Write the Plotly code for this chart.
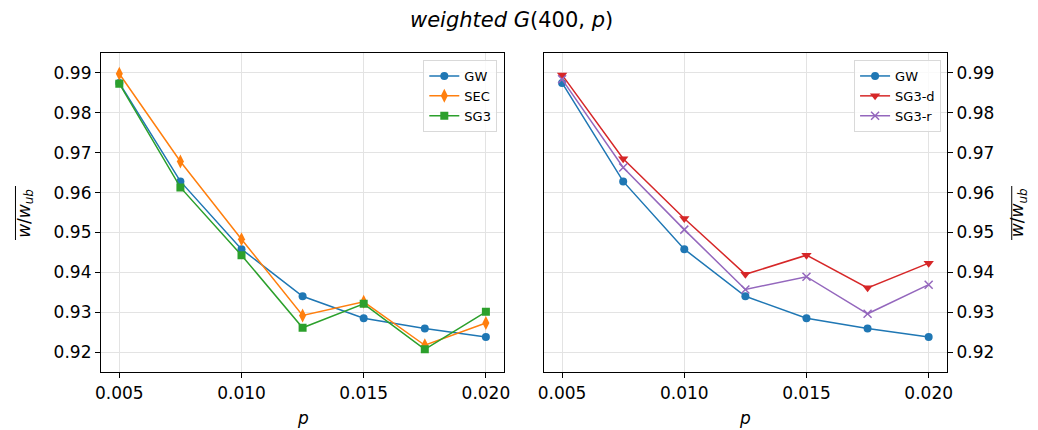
import plotly.graph_objects as go

# page body has an 8px margin; the figure is sized to fill the rest of the window
OFF = 8
W, H = 1038 - OFF, 430 - OFF

p_vals = [0.005, 0.0075, 0.010, 0.0125, 0.015, 0.0175, 0.020]
gw = [0.9875, 0.9628, 0.9458, 0.9340, 0.9285, 0.9259, 0.9238]
sec = [0.9898, 0.9678, 0.9483, 0.9292, 0.9326, 0.9217, 0.9273]
sg3 = [0.9873, 0.9613, 0.9443, 0.9261, 0.9321, 0.9207, 0.9301]
sg3_d = [0.9895, 0.9685, 0.9535, 0.9395, 0.9443, 0.9361, 0.9423]
sg3_r = [0.9884, 0.9663, 0.9507, 0.9357, 0.9389, 0.9296, 0.9369]

x_ticks = [0.005, 0.010, 0.015, 0.020]
x_tick_labels = ["0.005", "0.010", "0.015", "0.020"]
y_ticks = [0.92, 0.93, 0.94, 0.95, 0.96, 0.97, 0.98, 0.99]
y_tick_labels = ["0.92", "0.93", "0.94", "0.95", "0.96", "0.97", "0.98", "0.99"]

C_BLUE, C_ORANGE, C_GREEN, C_RED, C_PURPLE = "#1f77b4", "#ff7f0e", "#2ca02c", "#d62728", "#9467bd"
FONT = "DejaVu Sans"

def px_x(v):
    return (v - OFF) / W

def px_y(v):
    return 1 - (v - OFF) / H

fig = go.Figure()

def add(x, y, name, color, symbol, size, xa, ya, legend, lw_marker=0):
    fig.add_trace(go.Scatter(
        x=x, y=y, name=name, mode="lines+markers",
        line=dict(color=color, width=1.5),
        marker=dict(color=color, symbol=symbol, size=size,
                    line=dict(color=color, width=lw_marker)),
        xaxis=xa, yaxis=ya, legend=legend,
    ))

add(p_vals, gw, "GW", C_BLUE, "circle", 8, "x", "y", "legend")
add(p_vals, sec, "SEC", C_ORANGE, "diamond-tall", 10, "x", "y", "legend")
add(p_vals, sg3, "SG3", C_GREEN, "square", 8, "x", "y", "legend")

add(p_vals, gw, "GW", C_BLUE, "circle", 8, "x2", "y2", "legend2")
add(p_vals, sg3_d, "SG3-d", C_RED, "triangle-down", 9, "x2", "y2", "legend2")
add(p_vals, sg3_r, "SG3-r", C_PURPLE, "x-thin", 8, "x2", "y2", "legend2", lw_marker=1.5)

xrange_ = [0.00425, 0.02075]
yrange_ = [0.915, 0.995]
ydom = [px_y(372), px_y(53)]

axis_common = dict(
    showline=True, linecolor="black", linewidth=1.2, mirror=True,
    ticks="outside", ticklen=5, tickwidth=1.2, tickcolor="black",
    showgrid=True, gridcolor="#e3e3e3", gridwidth=1,
    zeroline=False,
    tickfont=dict(family=FONT, size=17, color="black"),
)

fig.update_layout(
    width=W, height=H,
    margin=dict(l=0, r=0, t=0, b=0),
    paper_bgcolor="white", plot_bgcolor="white",
    font=dict(family=FONT, color="black"),
    showlegend=True,
    xaxis=dict(domain=[px_x(96), px_x(504)], range=xrange_, tickvals=x_ticks,
               ticktext=x_tick_labels, anchor="y", **axis_common),
    yaxis=dict(domain=ydom, range=yrange_, tickvals=y_ticks, ticktext=y_tick_labels,
               anchor="x", side="left", **axis_common),
    xaxis2=dict(domain=[px_x(544), px_x(952)], range=xrange_, tickvals=x_ticks,
                ticktext=x_tick_labels, anchor="y2", **axis_common),
    yaxis2=dict(domain=ydom, range=yrange_, tickvals=y_ticks, ticktext=y_tick_labels,
                anchor="x2", side="right", **axis_common),
    legend=dict(x=px_x(497), y=px_y(60), xanchor="right", yanchor="top",
                bgcolor="rgba(255,255,255,0.8)", bordercolor="#d9d9d9", borderwidth=1,
                font=dict(family=FONT, size=13, color="black"),
                tracegroupgap=0, itemwidth=30),
    legend2=dict(x=px_x(946), y=px_y(60), xanchor="right", yanchor="top",
                 bgcolor="rgba(255,255,255,0.8)", bordercolor="#d9d9d9", borderwidth=1,
                 font=dict(family=FONT, size=13, color="black"),
                 tracegroupgap=0, itemwidth=30),
)

annotations = [
    dict(text="<i>weighted G</i>(400, <i>p</i>)", x=px_x(511), y=px_y(20),
         xref="paper", yref="paper", showarrow=False, xanchor="center", yanchor="middle",
         font=dict(family=FONT, size=21, color="black")),
    dict(text="<i>p</i>", x=px_x(300), y=px_y(418), xref="paper", yref="paper",
         showarrow=False, xanchor="center", yanchor="middle",
         font=dict(family=FONT, size=17, color="black")),
    dict(text="<i>p</i>", x=px_x(748), y=px_y(418), xref="paper", yref="paper",
         showarrow=False, xanchor="center", yanchor="middle",
         font=dict(family=FONT, size=17, color="black")),
    dict(text="<i>w</i>/<i>w<sub>ub</sub></i>", x=px_x(20), y=px_y(213), xref="paper", yref="paper",
         showarrow=False, xanchor="center", yanchor="middle", textangle=-90,
         font=dict(family=FONT, size=17, color="black")),
    dict(text="<i>w</i>/<i>w<sub>ub</sub></i>", x=px_x(1025), y=px_y(213), xref="paper", yref="paper",
         showarrow=False, xanchor="center", yanchor="middle", textangle=-90,
         font=dict(family=FONT, size=17, color="black")),
]
fig.update_layout(annotations=annotations)

fig.add_shape(type="line", xref="paper", yref="paper",
              x0=px_x(9.5), x1=px_x(9.5), y0=px_y(186), y1=px_y(240),
              line=dict(color="black", width=1))
fig.add_shape(type="line", xref="paper", yref="paper",
              x0=px_x(1017.5), x1=px_x(1017.5), y0=px_y(186), y1=px_y(240),
              line=dict(color="black", width=1))

fig.write_html("out.html")
